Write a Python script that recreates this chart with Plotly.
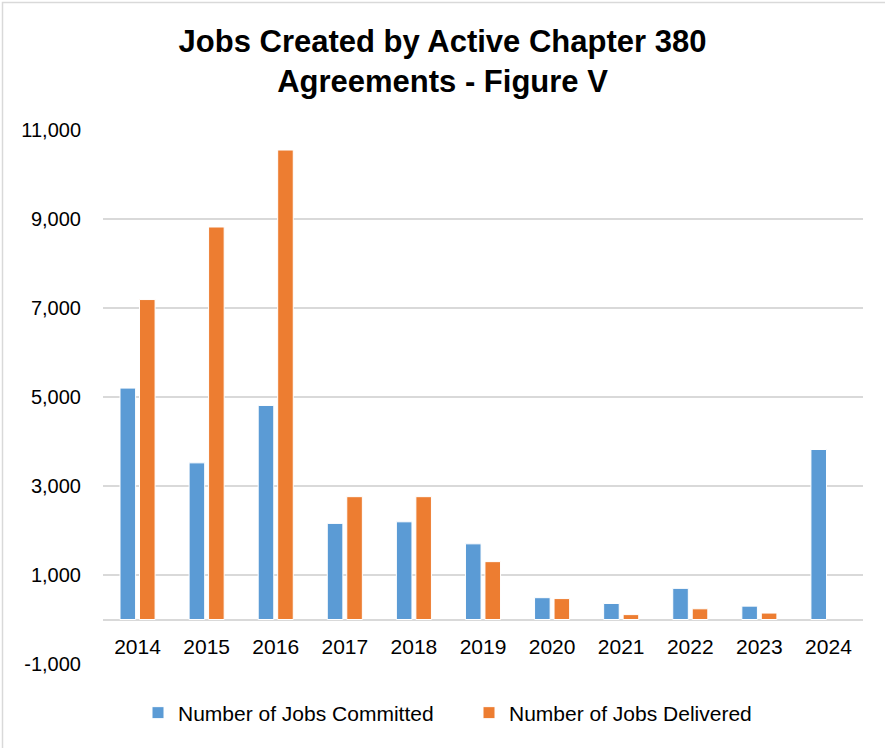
import plotly.graph_objects as go

# Chapter 380 agreement jobs by year
years = ["2014", "2015", "2016", "2017", "2018", "2019", "2020", "2021", "2022", "2023", "2024"]
jobs_committed = [5200, 3520, 4810, 2160, 2195, 1700, 490, 360, 700, 300, 3820]
jobs_delivered = [7190, 8820, 10550, 2760, 2760, 1300, 470, 110, 240, 145, None]
y_ticks = [-1000, 1000, 3000, 5000, 7000, 9000, 11000]
y_range = [-1000, 11000]

W, H = 885, 748
L, R, T, B = 103, 22, 130, 84

FONT = "Arial, 'Liberation Sans', sans-serif"
GRID = "#d9d9d9"
BLUE = "#5b9bd5"
ORANGE = "#ed7d31"

fig = go.Figure()
fig.add_trace(go.Bar(
    x=years, y=jobs_committed, name="Number of Jobs Committed",
    marker=dict(color=BLUE, line=dict(color="white", width=1)),
))
fig.add_trace(go.Bar(
    x=years, y=jobs_delivered, name="Number of Jobs Delivered",
    marker=dict(color=ORANGE, line=dict(color="white", width=1)),
))

# category axis sits on the zero line
zero_frac = (0 - y_range[0]) / (y_range[1] - y_range[0])

fig.update_layout(
    width=W, height=H,
    margin=dict(l=L, r=R, t=T, b=B, autoexpand=False),
    paper_bgcolor="white", plot_bgcolor="white",
    font=dict(family=FONT, size=20, color="#000000"),
    barmode="group", bargap=0.436, bargroupgap=0.2,
    title=dict(
        text="<b>Jobs Created by Active Chapter 380<br>Agreements - Figure V</b>",
        x=0.5, xref="container", xanchor="center",
        y=1 - 52 / H, yref="container", yanchor="middle",
        font=dict(family=FONT, size=31, color="#000000"),
    ),
    xaxis=dict(
        type="category", anchor="free", position=zero_frac,
        showgrid=False, showline=False, zeroline=False,
        ticks="", ticklabelstandoff=12,
        tickfont=dict(size=21, color="#000000"),
    ),
    yaxis=dict(
        range=y_range, domain=[0, 1],
        tickmode="array", tickvals=y_ticks,
        ticktext=[f"{v:,}" for v in y_ticks],
        showgrid=True, gridcolor=GRID, gridwidth=1.5,
        zeroline=True, zerolinecolor=GRID, zerolinewidth=1.5,
        showline=False, ticks="", ticklabelstandoff=21,
        tickfont=dict(size=20, color="#000000"),
    ),
    legend=dict(
        orientation="h", xref="container", yref="container",
        x=(160 - 22) / W, xanchor="left", y=1 - 713 / H, yanchor="middle",
        font=dict(size=21, color="#000000"),
        itemwidth=30, traceorder="normal",
        entrywidth=286, entrywidthmode="pixels",
    ),
)

# thin chart-area border
pw, ph = W - L - R, H - T - B
def px_x(v):
    return (v - L) / pw
def px_y(v):
    return 1 - (v - T) / ph
fig.add_shape(
    type="rect", xref="paper", yref="paper",
    x0=px_x(2.5), x1=px_x(W + 2), y0=px_y(2.5), y1=px_y(H + 2),
    line=dict(color="#d9d9d9", width=1.5), fillcolor="rgba(0,0,0,0)", layer="below",
)

fig.write_html("out.html")
